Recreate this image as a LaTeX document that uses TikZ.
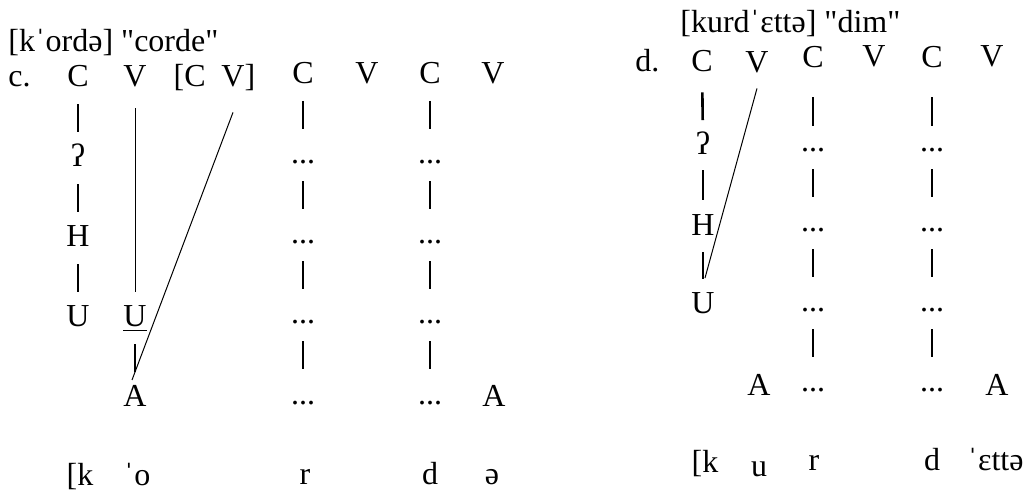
\documentclass[tikz,border=0pt]{standalone}
\usepackage{fontspec}
\setmainfont{Liberation Serif}[Ligatures=TeXOff]
\tikzset{
  seg/.style={anchor=base,inner sep=0pt,text height=10.6pt,text depth=0pt,
              font=\fontsize{16}{19}\selectfont},
  gloss/.style={anchor=base west,inner sep=0pt,font=\fontsize{16}{19}\selectfont},
  tier/.style={line width=0.6pt,shorten <=8.5pt,shorten >=6.6pt},
  heavytier/.style={line width=1.3pt,shorten <=8.5pt,shorten >=6.6pt},
  spread/.style={line width=0.5pt}
}
\begin{document}
\begin{tikzpicture}[x=0.5pt,y=-0.5pt]
  \useasboundingbox (0,0) rectangle (1030,492);
  % panel c
  \node[gloss] (ctitle) at (8,52) {[kˈordə] "corde"};
  \node[gloss] (clabel) at (8,87) {c.};
  \node[seg] (cC1) at (78,87) {C};
  \node[seg] (cV1) at (135,87) {V};
  \node[seg] (cC2) at (195,87) {\llap{[}C};
  \node[seg] (cV2) at (233,87) {V\rlap{]}};
  \node[seg] (cC3) at (303,83.5) {C};
  \node[seg] (cV3) at (367,83.5) {V};
  \node[seg] (cC4) at (430,83.5) {C};
  \node[seg] (cV4) at (493,83.5) {V};

  \node[seg] (cq) at (78,167) {ʔ};
  \node[seg] (cH) at (78,247) {H};
  \node[seg] (cU1) at (78,327) {U};
  \node[seg] (cU2) at (135,327) {\underline{U}};
  \node[seg] (cA1) at (135,407) {A};

  \node[seg] (cr1) at (303,164) {...};
  \node[seg] (cr2) at (303,244) {...};
  \node[seg] (cr3) at (303,324) {...};
  \node[seg] (cr4) at (303,404) {...};
  \node[seg] (cd1) at (430,164) {...};
  \node[seg] (cd2) at (430,244) {...};
  \node[seg] (cd3) at (430,324) {...};
  \node[seg] (cd4) at (430,404) {...};
  \node[seg] (cA2) at (494,407) {A};

  \node[seg] (cb1) at (80,486) {[k};
  \node[seg] (cb2) at (137,486) {ˈo};
  \node[seg] (cb3) at (305,484) {r};
  \node[seg] (cb4) at (430,484) {d};
  \node[seg] (cb5) at (492,484) {ə};

  \draw[tier] (cC1) -- (cq);
  \draw[tier] (cq) -- (cH);
  \draw[tier] (cH) -- (cU1);
  \draw[spread,shorten <=10.5pt,shorten >=6.6pt] (cV1) -- (cU2);
  \draw[heavytier,line width=1.1pt] (cU2) -- (cA1);
  \coordinate (clink) at (132,380);
  \draw[spread] ([yshift=-12.5pt]cV2.south) -- (clink);
  \draw[tier] (cC3) -- (cr1);
  \draw[tier] (cr1) -- (cr2);
  \draw[tier] (cr2) -- (cr3);
  \draw[tier] (cr3) -- (cr4);
  \draw[tier] (cC4) -- (cd1);
  \draw[tier] (cd1) -- (cd2);
  \draw[tier] (cd2) -- (cd3);
  \draw[tier] (cd3) -- (cd4);

  % panel d
  \node[gloss] (dtitle) at (680,33) {[kurdˈɛttə] "dim"};
  \node[gloss] (dlabel) at (635,72) {d.};
  \node[seg] (dC1) at (702,72) {C};
  \node[seg] (dV1) at (757,73) {V};
  \node[seg] (dC2) at (813,68) {C};
  \node[seg] (dV2) at (874,67) {V};
  \node[seg] (dC3) at (932,68) {C};
  \node[seg] (dV3) at (992,67) {V};

  \node[seg] (dq) at (703,155) {ʔ};
  \node[seg] (dH) at (703,235) {H};
  \node[seg] (dU) at (703,314) {U};

  \node[seg] (dr1) at (813,152) {...};
  \node[seg] (dr2) at (813,232) {...};
  \node[seg] (dr3) at (813,312) {...};
  \node[seg] (dr4) at (813,392) {...};
  \node[seg] (dd1) at (932,152) {...};
  \node[seg] (dd2) at (932,232) {...};
  \node[seg] (dd3) at (932,312) {...};
  \node[seg] (dd4) at (932,392) {...};
  \node[seg] (dA1) at (759,395) {A};
  \node[seg] (dA2) at (997,395) {A};

  \node[seg] (db1) at (705,473) {[k};
  \node[seg] (db2) at (759,476) {u};
  \node[seg] (db3) at (814,470) {r};
  \node[seg] (db4) at (932,470) {d};
  \node[gloss] (db5) at (967,470) {ˈɛttə};

  \draw[heavytier,shorten <=10pt] (dC1) -- (dq);
  \draw[heavytier,shorten <=7.5pt] (dq) -- (dH);
  \draw[heavytier] (dH) -- (dU);
  \coordinate (dlink) at (705,278);
  \draw[spread] ([yshift=-7.5pt]dV1.south) -- (dlink);
  \draw[tier,shorten <=14.5pt,shorten >=2pt] (dC2) -- (dr1);
  \draw[tier] (dr1) -- (dr2);
  \draw[tier] (dr2) -- (dr3);
  \draw[tier] (dr3) -- (dr4);
  \draw[tier,shorten <=14.5pt,shorten >=2pt] (dC3) -- (dd1);
  \draw[tier] (dd1) -- (dd2);
  \draw[tier] (dd2) -- (dd3);
  \draw[tier] (dd3) -- (dd4);
\end{tikzpicture}
\end{document}
